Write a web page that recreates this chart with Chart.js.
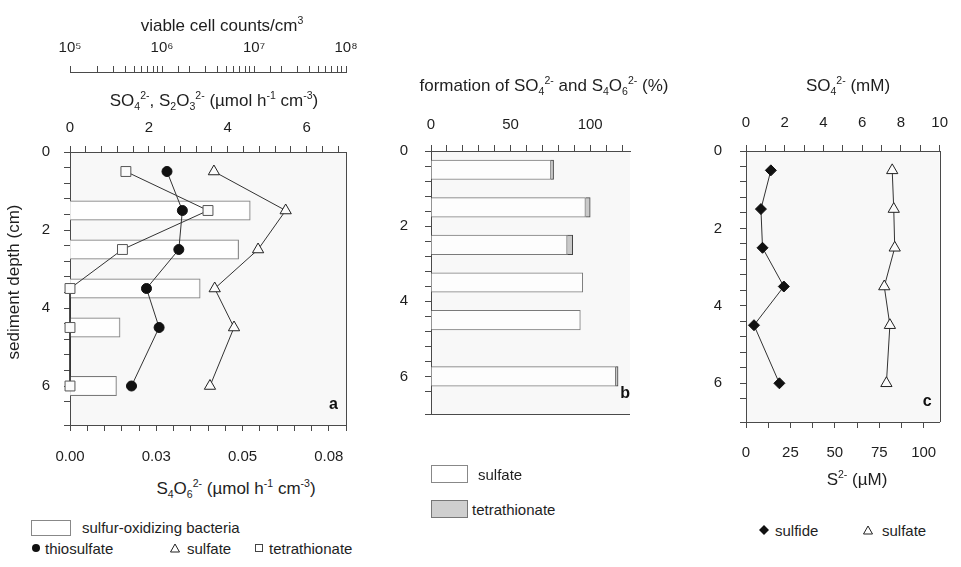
<!DOCTYPE html>
<html>
<head>
<meta charset="utf-8">
<script src="https://cdn.jsdelivr.net/npm/chart.js@4"></script>
<style>
  body { margin: 0; background: #fff; font-family: "Liberation Sans", Arial, sans-serif; color: #1e1e1e; }
  #wrap { position: relative; width: 961px; height: 567px; overflow: hidden; }
  #wrap canvas { position: absolute; top: 0; }
  .lbl { position: absolute; white-space: nowrap; line-height: 1; font-size: 17px; }
  .c { transform: translate(-50%, -50%); }
  .l { transform: translateY(-50%); }
  .rot { transform: translate(-50%, -50%) rotate(-90deg); }
  .leg { font-size: 15px; }
  sub, sup { font-size: 0.62em; line-height: 0; }
  .box { position: absolute; border: 1px solid #888; background: #fff; }
  .sym { position: absolute; transform: translate(-50%, -50%); }
</style>
</head>
<body>
<div id="wrap">
  <canvas id="chart-a" width="370" height="470" style="left:0px"></canvas>
  <canvas id="chart-b" width="270" height="440" style="left:380px"></canvas>
  <canvas id="chart-c" width="271" height="470" style="left:690px"></canvas>

  <!-- axis titles -->
  <div class="lbl c" style="left:222px; top:25px">viable cell counts/cm<sup>3</sup></div>
  <div class="lbl c" style="left:214px; top:100px">SO<sub>4</sub><sup>2-</sup>, S<sub>2</sub>O<sub>3</sub><sup>2-</sup> (µmol h<sup>-1</sup> cm<sup>-3</sup>)</div>
  <div class="lbl c" style="left:236px; top:488px">S<sub>4</sub>O<sub>6</sub><sup>2-</sup> (µmol h<sup>-1</sup> cm<sup>-3</sup>)</div>
  <div class="lbl rot" style="left:13px; top:282px">sediment depth (cm)</div>
  <div class="lbl c" style="left:544px; top:85px">formation of SO<sub>4</sub><sup>2-</sup> and S<sub>4</sub>O<sub>6</sub><sup>2-</sup> (%)</div>
  <div class="lbl c" style="left:848px; top:85px">SO<sub>4</sub><sup>2-</sup> (mM)</div>
  <div class="lbl c" style="left:857px; top:479px">S<sup>2-</sup> (µM)</div>

  <!-- legend panel a -->
  <div class="box" style="left:31px; top:520px; width:38px; height:14px"></div>
  <div class="lbl l leg" style="left:82px; top:527px">sulfur-oxidizing bacteria</div>
  <svg class="sym" style="left:36px; top:548px" width="10" height="10"><circle cx="5" cy="5" r="4" fill="#111"/></svg>
  <div class="lbl l leg" style="left:45px; top:548px">thiosulfate</div>
  <svg class="sym" style="left:175px; top:548px" width="11" height="10"><polygon points="5.5,1 10,9 1,9" fill="none" stroke="#222"/></svg>
  <div class="lbl l leg" style="left:187px; top:548px">sulfate</div>
  <svg class="sym" style="left:259px; top:548px" width="10" height="10"><rect x="1.5" y="1.5" width="7" height="7" fill="none" stroke="#444"/></svg>
  <div class="lbl l leg" style="left:269px; top:548px">tetrathionate</div>

  <!-- legend panel b -->
  <div class="box" style="left:431px; top:465px; width:35px; height:16px"></div>
  <div class="lbl l leg" style="left:478px; top:474px">sulfate</div>
  <div class="box" style="left:431px; top:500px; width:35px; height:16px; background:#cfcfcf; border-color:#777"></div>
  <div class="lbl l leg" style="left:472px; top:509px">tetrathionate</div>

  <!-- legend panel c -->
  <svg class="sym" style="left:764px; top:530px" width="11" height="11"><polygon points="5.5,0.5 10.5,5.5 5.5,10.5 0.5,5.5" fill="#111"/></svg>
  <div class="lbl l leg" style="left:775px; top:530px">sulfide</div>
  <svg class="sym" style="left:868px; top:530px" width="11" height="10"><polygon points="5.5,1 10,9 1,9" fill="none" stroke="#222"/></svg>
  <div class="lbl l leg" style="left:882px; top:530px">sulfate</div>
</div>

<script>
// sediment profiles: depth of each slice in cm, shared by the three panels
const DEPTHS = [0.5, 1.5, 2.5, 3.5, 4.5, 6];

// panel a - viable counts of sulfur-oxidizing bacteria (cells/cm3)
const BACTERIA_DEPTHS = [1.5, 2.5, 3.5, 4.5, 6];
const BACTERIA_COUNTS = [9.1e6, 6.8e6, 2.6e6, 3.5e5, 3.2e5];

// panel a - oxidation rates (umol h-1 cm-3)
const THIOSULFATE_RATE = [2.46, 2.85, 2.76, 1.94, 2.26, 1.56];
const SULFATE_RATE = [3.65, 5.47, 4.77, 3.67, 4.16, 3.55];
const TETRATHIONATE_RATE = [0.0162, 0.040, 0.0152, 0, 0, 0];

// panel b - formation of sulfate and tetrathionate (%)
const SULFATE_PCT = [75.3, 97, 85.5, 95.3, 93.8, 116];
const TETRATHIONATE_PCT = [1.7, 3, 3.5, 0, 0, 1.5];

// panel c - pore water
const SULFIDE_UM = [14, 8.4, 9.3, 21.3, 4.5, 18.8];
const SULFATE_MM = [7.55, 7.63, 7.68, 7.14, 7.43, 7.25];

// tick labels
const DEPTH_TICKS = [0, 2, 4, 6];
const CELL_TICKS = [1e5, 1e6, 1e7, 1e8];
const CELL_LABELS = ['10⁵', '10⁶', '10⁷', '10⁸'];
const RATE_TICKS = [0, 2, 4, 6];
const TETRA_TICKS = [0, 0.025, 0.05, 0.075];
const TETRA_LABELS = ['0.00', '0.03', '0.05', '0.08'];
const PCT_TICKS = [0, 50, 100];
const SO4_TICKS = [0, 2, 4, 6, 8, 10];
const SULFIDE_TICKS = [0, 25, 50, 75, 100];

const FONT = '"Liberation Sans", Arial, sans-serif';
const AXIS_COLOR = '#4a4a4a';
const TEXT_COLOR = '#1e1e1e';
const LINE_COLOR = '#333';
const PLOT_BG = '#f8f8f8';


// only the listed tick values get a label, the rest stay as bare tick marks
function labelsAt(values, labels) {
    return function (value) {
        for (let i = 0; i < values.length; i++) {
            if (Math.abs(value - values[i]) < Math.abs(values[i]) * 1e-6 + 1e-9) {
                return labels ? labels[i] : String(values[i]);
            }
        }
        return '';
    };
}

// common look of every axis; size fixes the axis box so the three panels line up
function makeAxis(position, size, pad, settings, tickSettings) {
    const axis = {
        position: position,
        offset: false,
        border: { color: AXIS_COLOR, width: 1 },
        grid: { drawOnChartArea: false, drawTicks: true, tickLength: 6, tickColor: AXIS_COLOR, offset: false },
        ticks: Object.assign({
            color: TEXT_COLOR,
            font: { family: FONT, size: 15 },
            padding: pad,
            autoSkip: false,
            maxRotation: 0,
            minRotation: 0,
            includeBounds: false
        }, tickSettings),
        afterFit: function (scale) {
            if (scale.isHorizontal()) {
                scale.height = size;
            } else {
                scale.width = size;
            }
        }
    };
    return Object.assign(axis, settings);
}

function depthAxis(width, pad) {
    return makeAxis('left', width, pad,
        { type: 'linear', min: 0, max: 7, reverse: true },
        { stepSize: 0.4, includeBounds: true, callback: labelsAt(DEPTH_TICKS) });
}

// pairs each value with its depth for the vertical profiles
function profile(values, depths) {
    const points = [];
    for (let i = 0; i < values.length; i++) {
        points.push({ x: values[i], y: depths[i] });
    }
    return points;
}

// grey plot background, the extra frame lines and the panel letter
const panelFrame = {
    id: 'panelFrame',
    beforeDraw: function (chart, args, opts) {
        const a = chart.chartArea;
        const ctx = chart.ctx;
        ctx.save();
        ctx.fillStyle = PLOT_BG;
        ctx.fillRect(a.left, a.top, a.right - a.left, a.bottom - a.top);
        ctx.restore();
    },
    afterDraw: function (chart, args, opts) {
        const a = chart.chartArea;
        const ctx = chart.ctx;
        ctx.save();
        ctx.strokeStyle = AXIS_COLOR;
        ctx.lineWidth = 1;
        ctx.beginPath();
        if (opts.right) {
            ctx.moveTo(Math.round(a.right) + 0.5, a.top);
            ctx.lineTo(Math.round(a.right) + 0.5, a.bottom);
        }
        if (opts.bottom) {
            ctx.moveTo(a.left, Math.round(a.bottom) + 0.5);
            ctx.lineTo(a.right, Math.round(a.bottom) + 0.5);
        }
        ctx.stroke();
        ctx.fillStyle = '#111';
        ctx.font = 'bold 16px ' + FONT;
        ctx.textAlign = 'right';
        ctx.textBaseline = 'middle';
        ctx.fillText(opts.letter, a.right - opts.letterInset, a.bottom - 20);
        ctx.restore();
    }
};

const baseOptions = {
    responsive: false,
    animation: false,
    devicePixelRatio: 1,
    plugins: { legend: { display: false }, tooltip: { enabled: false } }
};

function lineStyle(pointStyle, radius, fill, stroke) {
    return {
        borderColor: LINE_COLOR,
        borderWidth: 1,
        pointStyle: pointStyle,
        pointRadius: radius,
        pointBackgroundColor: fill,
        pointBorderColor: stroke,
        pointBorderWidth: 1,
        clip: false,
        tension: 0
    };
}


// panel a: bacteria bars (log scale on top) plus three rate profiles
new Chart(document.getElementById('chart-a'), {
    type: 'bar',
    data: {
        datasets: [
            Object.assign({
                type: 'line', label: 'thiosulfate', indexAxis: 'y', order: 1,
                xAxisID: 'rate', yAxisID: 'depth',
                data: profile(THIOSULFATE_RATE, DEPTHS)
            }, lineStyle('circle', 5, '#111', '#111')),
            Object.assign({
                type: 'line', label: 'sulfate', indexAxis: 'y', order: 2,
                xAxisID: 'rate', yAxisID: 'depth',
                data: profile(SULFATE_RATE, DEPTHS)
            }, lineStyle('triangle', 6.5, '#fbfbfb', '#222')),
            Object.assign({
                type: 'line', label: 'tetrathionate', indexAxis: 'y', order: 3,
                xAxisID: 'tetra', yAxisID: 'depth',
                data: profile(TETRATHIONATE_RATE, DEPTHS)
            }, lineStyle('rect', 7, '#fbfbfb', '#555')),
            {
                type: 'bar', label: 'sulfur-oxidizing bacteria', indexAxis: 'y', order: 10,
                xAxisID: 'cells', yAxisID: 'depth',
                data: profile(BACTERIA_COUNTS, BACTERIA_DEPTHS),
                backgroundColor: 'rgba(255,255,255,0.85)',
                borderColor: '#7a7a7a',
                borderWidth: 1,
                barThickness: 19.5
            }
        ]
    },
    options: Object.assign({}, baseOptions, {
        indexAxis: 'y',
        layout: { padding: { right: 24 } },
        scales: {
            depth: depthAxis(70, 14),
            rate: makeAxis('top', 80, 9, { type: 'linear', min: 0, max: 7, weight: 0 },
                { stepSize: 0.4, callback: labelsAt(RATE_TICKS) }),
            cells: makeAxis('top', 72, 9, { type: 'logarithmic', min: 1e5, max: 1e8, weight: 1 },
                { callback: labelsAt(CELL_TICKS, CELL_LABELS) }),
            tetra: makeAxis('bottom', 45, 17, { type: 'linear', min: 0, max: 0.08 },
                { stepSize: 0.005, callback: labelsAt(TETRA_TICKS, TETRA_LABELS) })
        },
        plugins: Object.assign({}, baseOptions.plugins, {
            panelFrame: { right: true, bottom: false, letter: 'a', letterInset: 8 }
        })
    }),
    plugins: [panelFrame]
});


// panel b: stacked bars of sulfate and tetrathionate formation
new Chart(document.getElementById('chart-b'), {
    type: 'bar',
    data: {
        datasets: [
            {
                label: 'sulfate', indexAxis: 'y', stack: 'formation',
                xAxisID: 'pct', yAxisID: 'depth',
                data: profile(SULFATE_PCT, DEPTHS),
                backgroundColor: '#fdfdfd',
                borderColor: '#7a7a7a',
                borderWidth: 1,
                barThickness: 19.5
            },
            {
                label: 'tetrathionate', indexAxis: 'y', stack: 'formation',
                xAxisID: 'pct', yAxisID: 'depth',
                data: profile(TETRATHIONATE_PCT, DEPTHS),
                backgroundColor: '#c9c9c9',
                borderColor: '#444',
                borderWidth: 1,
                barThickness: 19.5
            }
        ]
    },
    options: Object.assign({}, baseOptions, {
        indexAxis: 'y',
        layout: { padding: { right: 20, bottom: 17 } },
        scales: {
            depth: depthAxis(51, 17),
            pct: makeAxis('top', 151, 11, { type: 'linear', min: 0, max: 125, stacked: true },
                { stepSize: 10, callback: labelsAt(PCT_TICKS) })
        },
        plugins: Object.assign({}, baseOptions.plugins, {
            panelFrame: { right: false, bottom: true, letter: 'b', letterInset: 0 }
        })
    }),
    plugins: [panelFrame]
});


// panel c: sulfide (bottom axis) and sulfate (top axis) in the pore water
new Chart(document.getElementById('chart-c'), {
    type: 'line',
    data: {
        datasets: [
            Object.assign({
                label: 'sulfide', indexAxis: 'y',
                xAxisID: 'sulfide', yAxisID: 'depth',
                data: profile(SULFIDE_UM, DEPTHS)
            }, lineStyle('rectRot', 5.5, '#111', '#111')),
            Object.assign({
                label: 'sulfate', indexAxis: 'y',
                xAxisID: 'so4', yAxisID: 'depth',
                data: profile(SULFATE_MM, DEPTHS)
            }, lineStyle('triangle', 6.5, '#fbfbfb', '#222'))
        ]
    },
    options: Object.assign({}, baseOptions, {
        layout: { padding: { right: 12 } },
        scales: {
            depth: depthAxis(56, 18),
            so4: makeAxis('top', 151, 13, { type: 'linear', min: 0, max: 10 },
                { stepSize: 1, callback: labelsAt(SO4_TICKS) }),
            sulfide: makeAxis('bottom', 48, 16, { type: 'linear', min: 0, max: 109 },
                { stepSize: 12.5, callback: labelsAt(SULFIDE_TICKS) })
        },
        plugins: Object.assign({}, baseOptions.plugins, {
            panelFrame: { right: true, bottom: false, letter: 'c', letterInset: 8 }
        })
    }),
    plugins: [panelFrame]
});
</script>
</body>
</html>
